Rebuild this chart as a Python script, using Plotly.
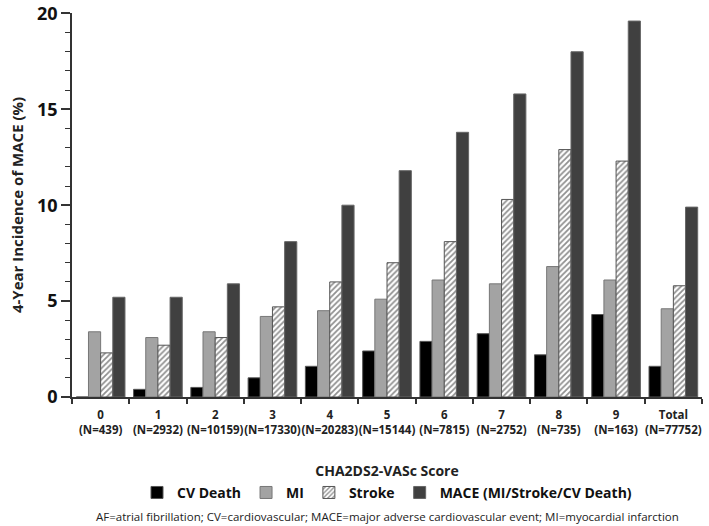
import plotly.graph_objects as go

scores = ["0", "1", "2", "3", "4", "5", "6", "7", "8", "9", "Total"]
counts = ["439", "2932", "10159", "17330", "20283", "15144", "7815", "2752", "735", "163", "77752"]
cv_death = [0.0, 0.4, 0.5, 1.0, 1.6, 2.4, 2.9, 3.3, 2.2, 4.3, 1.6]
mi = [3.4, 3.1, 3.4, 4.2, 4.5, 5.1, 6.1, 5.9, 6.8, 6.1, 4.6]
stroke = [2.3, 2.7, 3.1, 4.7, 6.0, 7.0, 8.1, 10.3, 12.9, 12.3, 5.8]
mace = [5.2, 5.2, 5.9, 8.1, 10.0, 11.8, 13.8, 15.8, 18.0, 19.6, 9.9]

cats = [f"<b>{s}</b><br><b>(N={n})</b>" for s, n in zip(scores, counts)]

FONT = "Open Sans"
fig = go.Figure()
fig.add_bar(x=cats, y=cv_death, name="<b>CV Death</b>",
            marker=dict(color="#000000", line=dict(color="#555555", width=1)))
fig.add_bar(x=cats, y=mi, name="<b>MI</b>",
            marker=dict(color="#a3a3a3", line=dict(color="#777777", width=1)))
fig.add_bar(x=cats, y=stroke, name="<b>Stroke</b>",
            marker=dict(color="#ffffff", line=dict(color="#555555", width=1),
                        pattern=dict(shape="/", fgcolor="#222222", bgcolor="#ffffff",
                                     size=4, solidity=0.45)))
fig.add_bar(x=cats, y=mace, name="<b>MACE (MI/Stroke/CV Death)</b>",
            marker=dict(color="#404040", line=dict(color="#666666", width=1)))

fig.update_layout(
    width=709, height=526,
    margin=dict(l=72, r=7, t=13, b=129, autoexpand=False),
    paper_bgcolor="white", plot_bgcolor="white",
    barmode="group", bargap=0.15, bargroupgap=0,
    font=dict(family=FONT, color="#222222"),
    showlegend=True,
    legend=dict(orientation="h", x=0.5, xanchor="center", y=-0.208, yanchor="top",
                font=dict(size=14, family=FONT, color="#111111"),
                traceorder="normal", itemwidth=30),
    xaxis=dict(showline=True, linecolor="#333333", linewidth=1.5, automargin=False,
               ticks="outside", tickson="boundaries", ticklen=5, tickcolor="#333333",
               tickwidth=1.5, tickangle=0, ticklabelstandoff=6,
               tickfont=dict(size=11.5, family=FONT, color="#222222"),
               title=dict(text="<b>CHA2DS2-VASc Score</b>", font=dict(size=14, family=FONT),
                          standoff=31)),
    yaxis=dict(range=[0, 20.02], tickmode="linear", tick0=0, dtick=5,
               showgrid=False, zeroline=False, ticklabeloverflow="allow",
               showline=True, linecolor="#333333", linewidth=1.5, automargin=False,
               ticks="outside", ticklen=9, tickcolor="#333333", tickwidth=1.5,
               minor=dict(tickmode="linear", tick0=0, dtick=1, ticks="outside",
                          ticklen=5, tickcolor="#333333", tickwidth=1, showgrid=False),
               tickprefix="<b>", ticksuffix="</b>",
               tickfont=dict(size=18, family=FONT, color="#111111"),
               title=dict(text="<b>4-Year Incidence of MACE (%)</b>", font=dict(size=15, family=FONT),
                          standoff=10)),
)

fig.add_annotation(text="AF=atrial fibrillation; CV=cardiovascular; MACE=major adverse cardiovascular event; MI=myocardial infarction",
                   xref="paper", yref="paper", x=0.5, y=-0.31, xanchor="center", yanchor="middle",
                   showarrow=False, font=dict(size=11.5, family=FONT, color="#222222"))

fig.write_html("out.html", config={"displayModeBar": False},
               post_script="document.body.style.margin='0';")
